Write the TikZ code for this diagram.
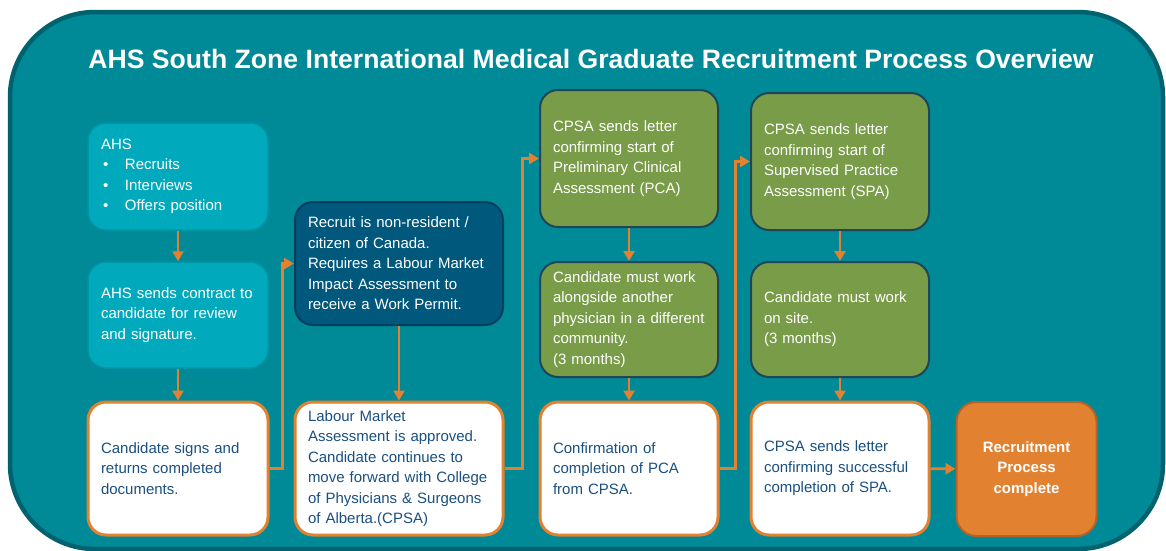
\documentclass[tikz,border=0pt]{standalone}
\usepackage{fontspec}
\setmainfont{Liberation Sans}
\usepackage{tikz}
\usetikzlibrary{positioning,arrows.meta}
\usepackage{xcolor}

\definecolor{framefill}{RGB}{0,137,150}
\definecolor{frameline}{RGB}{0,98,110}
\definecolor{ahsfill}{RGB}{0,170,188}
\definecolor{ahsline}{RGB}{0,148,164}
\definecolor{recfill}{RGB}{0,88,125}
\definecolor{recline}{RGB}{0,62,94}
\definecolor{grnfill}{RGB}{120,156,72}
\definecolor{grnline}{RGB}{30,70,88}
\definecolor{orng}{RGB}{226,130,48}
\definecolor{orngline}{RGB}{184,98,38}
\definecolor{txtblue}{RGB}{26,80,128}

\newcommand{\bul}{\makebox[24pt][l]{\hspace{2pt}\textbullet}}

\begin{document}
\begin{tikzpicture}[
    x=1pt, y=-1pt,
    every node/.style={font=\fontsize{15}{20.5}\selectfont},
    card/.style={
        rounded corners=18pt,
        inner xsep=0pt,
        inner ysep=0pt,
        align=left
    },
    ahsbox/.style={
        card,
        draw=ahsline,
        line width=1.5pt,
        fill=ahsfill,
        text=white
    },
    recbox/.style={
        card,
        draw=recline,
        line width=2pt,
        fill=recfill,
        text=white
    },
    grnbox/.style={
        card,
        draw=grnline,
        line width=2pt,
        fill=grnfill,
        text=white
    },
    whitebox/.style={
        card,
        draw=orng,
        line width=3pt,
        fill=white,
        text=txtblue
    },
    donebox/.style={
        card,
        rounded corners=20pt,
        draw=orngline,
        line width=2pt,
        fill=orng,
        text=white,
        align=center,
        font=\fontsize{15}{20.5}\selectfont\bfseries
    },
    flow/.style={
        draw=orng,
        line width=2.8pt,
        -{Triangle[length=10pt,width=11pt]}
    }
]

\useasboundingbox (0,0) rectangle (1166,550);
\draw[draw=frameline, line width=4.5pt, fill=framefill, rounded corners=85pt] (10,12) rectangle (1163,549);

\node[anchor=base, text=white, font=\fontsize{26.6}{30}\selectfont\bfseries] (title) at (591,68)
    {AHS South Zone International Medical Graduate Recruitment Process Overview};

\node[ahsbox, minimum width=180pt, minimum height=107pt, text width=154pt] (ahs) at (178,176.5)
    {AHS\\\bul Recruits\\\bul Interviews\\\bul Offers position};
\node[ahsbox, minimum width=180pt, minimum height=106pt, text width=154pt] (contract) at (178,315)
    {AHS sends contract to\\candidate for review\\and signature.};
\node[whitebox, minimum width=180pt, minimum height=133pt, text width=154pt] (signs) at (178,468.5)
    {Candidate signs and\\returns completed\\documents.};

\node[recbox, minimum width=208pt, minimum height=123pt, text width=182pt] (recruit) at (399,263.5)
    {Recruit is non-resident /\\citizen of Canada.\\Requires a Labour Market\\Impact Assessment to\\receive a Work Permit.};
\node[whitebox, minimum width=208pt, minimum height=133pt, text width=182pt] (lma) at (399,468.5)
    {Labour Market\\Assessment is approved.\\Candidate continues to\\move forward with College\\of Physicians \& Surgeons\\of Alberta.(CPSA)};

\node[grnbox, minimum width=178pt, minimum height=137pt, text width=152pt] (pca) at (629,158.5)
    {CPSA sends letter\\confirming start of\\Preliminary Clinical\\Assessment (PCA)};
\node[grnbox, minimum width=178pt, minimum height=115pt, text width=152pt] (pcawork) at (629,319.5)
    {Candidate must work\\alongside another\\physician in a different\\community.\\(3 months)};
\node[whitebox, minimum width=178pt, minimum height=133pt, text width=152pt] (pcadone) at (629,468.5)
    {Confirmation of\\completion of PCA\\from CPSA.};

\node[grnbox, minimum width=178pt, minimum height=137pt, text width=152pt] (spa) at (840,161.5)
    {CPSA sends letter\\confirming start of\\Supervised Practice\\Assessment (SPA)};
\node[grnbox, minimum width=178pt, minimum height=115pt, text width=152pt] (spawork) at (840,319.5)
    {Candidate must work\\on site.\\(3 months)};
\node[whitebox, minimum width=178pt, minimum height=133pt, text width=152pt] (spadone) at (840,468.5)
    {CPSA sends letter\\confirming successful\\completion of SPA.};

\node[donebox, minimum width=140pt, minimum height=134pt] (done) at (1026.5,469)
    {Recruitment\\Process\\complete};

\draw[flow] (ahs) -- (contract);
\draw[flow] (contract) -- (signs);
\draw[flow] (signs.east) -- ++(13,0) |- (recruit.west);
\draw[flow] (recruit) -- (lma);
\draw[flow] (lma.east) -- ++(18,0) |- (pca.west);
\draw[flow] (pca) -- (pcawork);
\draw[flow] (pcawork) -- (pcadone);
\draw[flow] (pcadone.east) -- ++(16,0) |- (spa.west);
\draw[flow] (spa) -- (spawork);
\draw[flow] (spawork) -- (spadone);
\draw[flow] (spadone) -- (done);

\end{tikzpicture}
\end{document}
